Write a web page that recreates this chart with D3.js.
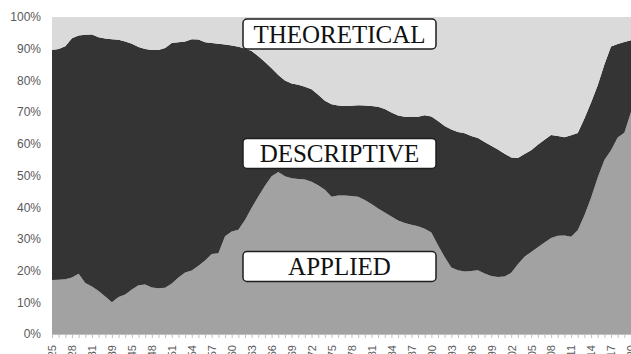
<!DOCTYPE html>
<html>
<head>
<meta charset="utf-8">
<script src="https://cdn.jsdelivr.net/npm/d3@7"></script>
<style>
body { margin: 0; background: #fff; }
</style>
</head>
<body>
<svg id="chart" width="631" height="354"></svg>
<script>
// shares in percent, one value per category
let applied = [17, 17.1, 17.3, 17.8, 19, 16.1, 15, 13.6, 11.8, 10, 11.7, 12.5, 14, 15.4, 15.6, 14.7, 14.4, 14.6, 15.9, 17.8,
    19.4, 20, 21.5, 23.2, 25.2, 25.5, 30.8, 32.3, 32.9, 36, 39.8, 43.4, 46.8, 49.8, 51.1, 49.8, 49.1, 48.9, 48.7, 48,
    46.9, 45.5, 43.3, 43.7, 43.7, 43.5, 43.3, 42.3, 41, 39.6, 38.3, 37.1, 35.8, 35, 34.5, 34, 33.2, 32, 28, 24.3,
    21, 20.1, 19.7, 19.9, 20.1, 19.1, 18.3, 18, 18.1, 19.3, 22, 24.4, 25.9, 27.4, 28.9, 30.3, 31, 31.1, 30.7, 32.7,
    37.5, 43, 49.4, 54.9, 58, 62, 63.5, 70];

let descriptive = [72.6, 72.8, 73.5, 75.5, 75.2, 78.3, 79.5, 80, 81.4, 83, 81.1, 79.8, 77.6, 75.1, 74.3, 74.9, 75.2, 75.6, 75.9, 74.2,
    72.9, 73, 71.4, 68.8, 66.6, 66.1, 60.5, 58.7, 57.7, 54.1, 49.5, 44.2, 39, 34, 30.6, 30.2, 29.9, 29.7, 29.3, 29.2,
    28.6, 28.1, 29.2, 28.4, 28.2, 28.5, 28.9, 29.8, 30.9, 32.1, 32.7, 32.8, 33.1, 33.5, 34, 34.5, 35.8, 36.6, 39.2, 41.3,
    43.5, 43.6, 43.6, 42.6, 41.7, 41.5, 41.1, 40.2, 38.8, 36.4, 33.5, 32.4, 32.1, 32.3, 32.4, 32.5, 31.5, 31, 32, 30.7,
    30.5, 30, 29.1, 30.1, 32.7, 29.5, 28.6, 22.7];

let theoretical = [10.4, 10.1, 9.2, 6.7, 5.8, 5.6, 5.5, 6.4, 6.8, 7, 7.2, 7.7, 8.4, 9.5, 10.1, 10.4, 10.4, 9.8, 8.2, 8,
    7.7, 7, 7.1, 8, 8.2, 8.4, 8.7, 9, 9.4, 9.9, 10.7, 12.4, 14.2, 16.2, 18.3, 20, 21, 21.4, 22, 22.8,
    24.5, 26.4, 27.5, 27.9, 28.1, 28, 27.8, 27.9, 28.1, 28.3, 29, 30.1, 31.1, 31.5, 31.5, 31.5, 31, 31.4, 32.8, 34.4,
    35.5, 36.3, 36.7, 37.5, 38.2, 39.4, 40.6, 41.8, 43.1, 44.3, 44.5, 43.2, 42, 40.3, 38.7, 37.2, 37.5, 37.9, 37.3, 36.6,
    32, 27, 21.5, 15, 9.3, 8.5, 7.9, 7.3];

let seriesNames = ["APPLIED", "DESCRIPTIVE", "THEORETICAL"];
let seriesColors = ["#a2a2a2", "#343434", "#dadada"];

// every third category carries a label (the labels are cut off by the image edge)
let tickLabels = ["1925", "1928", "1931", "1939", "1945", "1948", "1951", "1954", "1957", "1960",
    "1963", "1966", "1969", "1972", "1975", "1978", "1981", "1984", "1987", "1990",
    "1993", "1996", "1999", "2002", "2005", "2008", "2011", "2014", "2017", "2020"];

let yTicks = [0, 0.1, 0.2, 0.3, 0.4, 0.5, 0.6, 0.7, 0.8, 0.9, 1];

let width = 631;
let height = 354;
let margin = {top: 17, right: 0, bottom: 20, left: 52};

let rows = applied.map((d, i) => ({
    i: i,
    APPLIED: d,
    DESCRIPTIVE: descriptive[i],
    THEORETICAL: theoretical[i]
}));

let stacked = d3.stack()
    .keys(seriesNames)
    .offset(d3.stackOffsetExpand)(rows);

let svg = d3.select("#chart");

let x = d3.scaleLinear()
    .domain([0, applied.length - 1])
    .range([margin.left, width - margin.right]);

let y = d3.scaleLinear()
    .domain([0, 1])
    .range([height - margin.bottom, margin.top]);

let area = d3.area()
    .x((d) => x(d.data.i))
    .y0((d) => y(d[0]))
    .y1((d) => y(d[1]));

svg.append("g")
    .selectAll("path")
    .data(stacked)
    .join("path")
    .attr("fill", (d, i) => seriesColors[i])
    .attr("d", area);

// x axis: a tick for every category, a label on every third
let xAxis = d3.axisBottom(x)
    .tickValues(d3.range(applied.length))
    .tickSize(4)
    .tickFormat((d) => d % 3 === 0 ? tickLabels[d / 3] : "");

let gx = svg.append("g")
    .attr("transform", `translate(0,${height - margin.bottom})`)
    .call(xAxis);

gx.select(".domain").attr("stroke", "#bfbfbf");
gx.selectAll(".tick line").attr("stroke", "#bfbfbf");
gx.selectAll(".tick text")
    .attr("fill", "#595959")
    .style("font-family", "'Liberation Sans', Arial, sans-serif")
    .style("font-size", "11px")
    .attr("text-anchor", "end")
    .attr("transform", "rotate(-90)")
    .attr("x", -11)
    .attr("y", 0)
    .attr("dy", "0.35em");

// y axis, labels only
let yAxis = d3.axisLeft(y)
    .tickValues(yTicks)
    .tickSize(0)
    .tickPadding(11)
    .tickFormat(d3.format(".0%"));

let gy = svg.append("g")
    .attr("transform", `translate(${margin.left},0)`)
    .call(yAxis);

gy.select(".domain").remove();
gy.selectAll(".tick text")
    .attr("fill", "#595959")
    .style("font-family", "'Liberation Sans', Arial, sans-serif")
    .style("font-size", "12px");

// boxed series names
let labelBoxes = [
    {name: "THEORETICAL", cy: 34},
    {name: "DESCRIPTIVE", cy: 153.5},
    {name: "APPLIED", cy: 266.5}
];

let boxW = 193, boxH = 30, boxX = 243;

let gl = svg.append("g")
    .selectAll("g")
    .data(labelBoxes)
    .join("g")
    .attr("transform", (d) => `translate(${boxX},${d.cy - boxH / 2})`);

gl.append("rect")
    .attr("width", boxW)
    .attr("height", boxH)
    .attr("rx", 4)
    .attr("fill", "#fff")
    .attr("stroke", "#1e1e1e")
    .attr("stroke-width", 1.5);

gl.append("text")
    .attr("x", boxW / 2)
    .attr("y", boxH / 2)
    .attr("dy", "0.34em")
    .attr("text-anchor", "middle")
    .attr("fill", "#111")
    .style("font-family", "'Liberation Serif', 'Times New Roman', serif")
    .style("font-size", "25px")
    .text((d) => d.name);
</script>
</body>
</html>
